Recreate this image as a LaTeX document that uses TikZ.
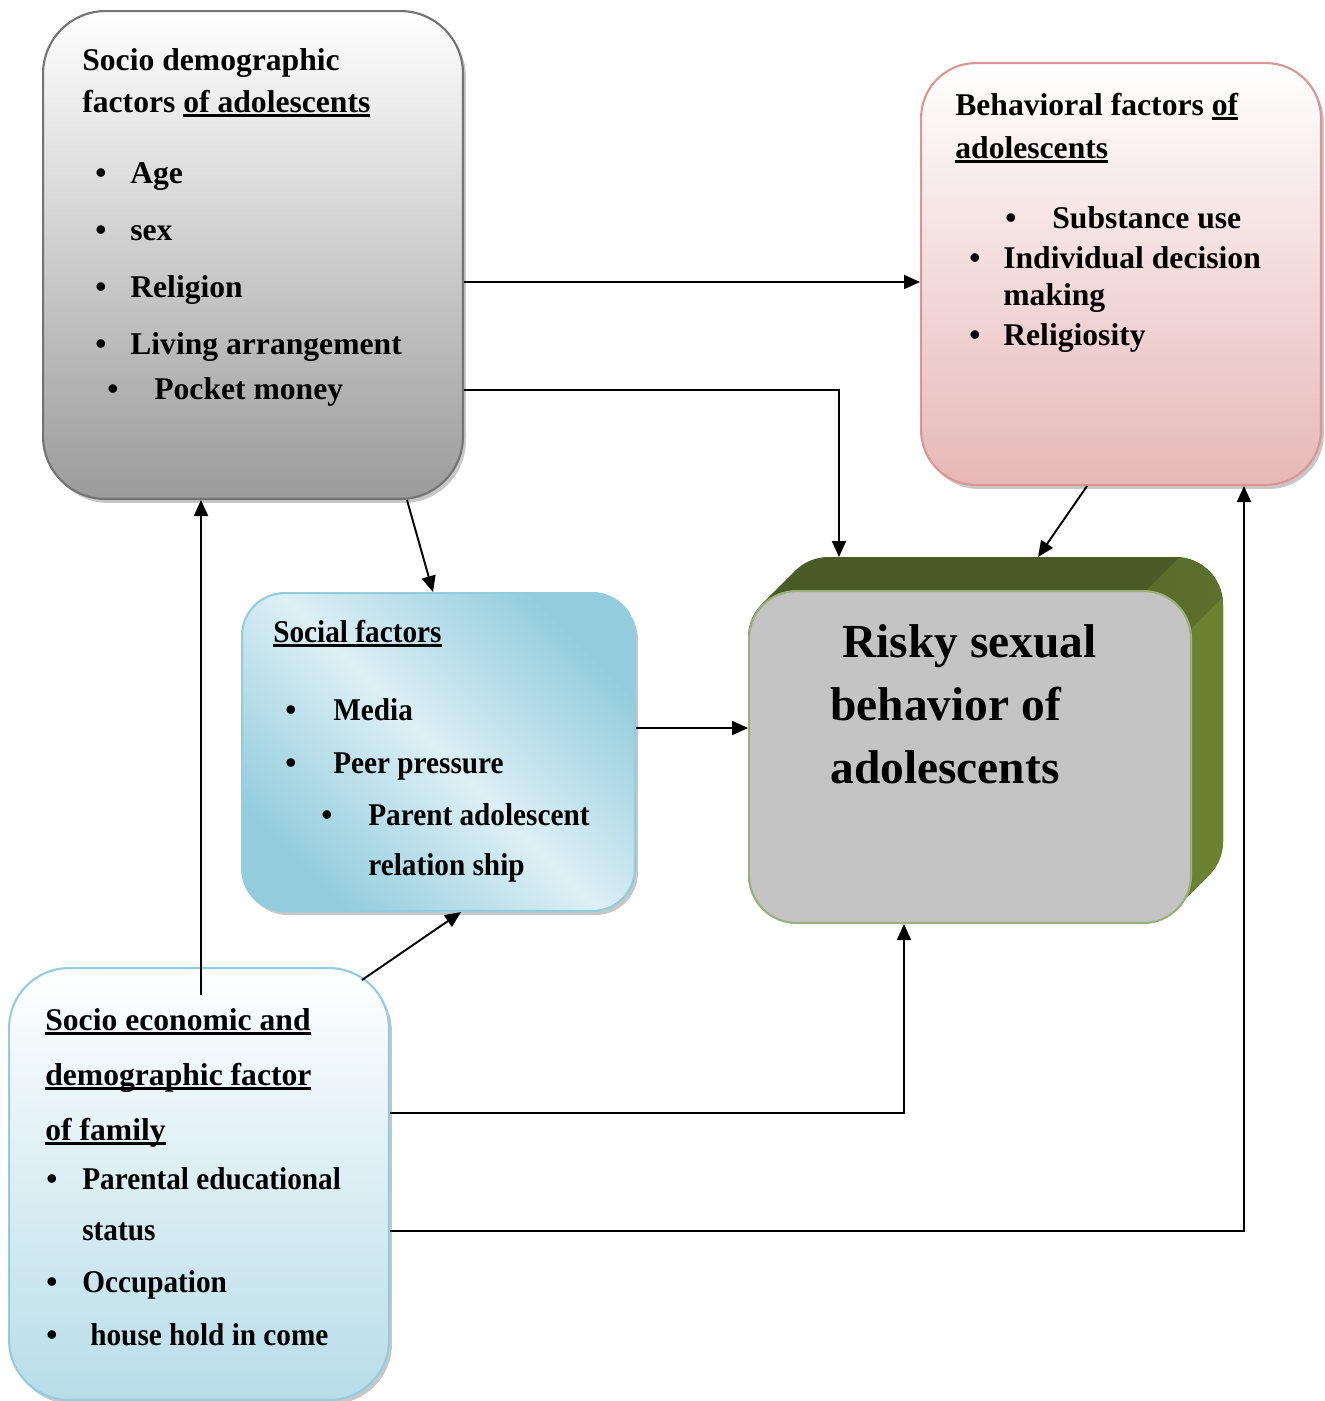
\documentclass[tikz,border=0pt]{standalone}
\usepackage{fontspec}
\setmainfont{Liberation Serif}
\newfontfamily\condfont[FakeStretch=0.925]{Liberation Serif}
\usetikzlibrary{arrows.meta,shadows}
\definecolor{gborder}{HTML}{737373}
\definecolor{gbottom}{HTML}{9B9B9B}
\definecolor{pborder}{HTML}{D99694}
\definecolor{pbottom}{HTML}{E6B8B7}
\definecolor{bborder}{HTML}{93CDDD}
\definecolor{bbottom}{HTML}{B7DDE8}
\definecolor{sdark}{HTML}{93CDDD}
\definecolor{slight}{HTML}{DDEFF5}
\definecolor{rfront}{HTML}{C4C4C4}
\definecolor{rborder}{HTML}{9CB07E}
\definecolor{rtop}{HTML}{4B5B28}
\definecolor{rside}{HTML}{6A8232}
\pgfdeclarehorizontalshading{socsh}{100bp}{color(0bp)=(sdark); color(25bp)=(sdark); color(50bp)=(slight); color(75bp)=(sdark); color(100bp)=(sdark)}
\newcommand\myul[1]{\setbox0=\hbox{#1}\rlap{\vrule height -1.2pt depth 2.8pt width \wd0}\box0}
\begin{document}
\begin{tikzpicture}[x=0.02cm,y=-0.02cm,
  boxbase/.style={rectangle, inner sep=0pt, anchor=north west, line width=1.2pt},
  shad/.style={drop shadow={shadow xshift=0.06cm, shadow yshift=-0.08cm, fill=black, opacity=0.22}},
  txt/.style={anchor=base west, inner sep=0pt, font=\fontsize{18}{22}\selectfont\bfseries},
  ctxt/.style={anchor=base west, inner sep=0pt, font=\fontsize{18}{22}\selectfont\condfont\bfseries},
  bul/.style={anchor=base, inner sep=0pt, font=\fontsize{18}{22}\selectfont\bfseries},
  big/.style={anchor=base west, inner sep=0pt, font=\fontsize{27}{32}\selectfont\bfseries},
  arr/.style={line width=1.1pt, -{Triangle[length=0.32cm,width=0.28cm]}}]
\useasboundingbox (0,0) rectangle (1325,1401);

% Box 1: socio demographic factors of adolescents
\node[boxbase, shad, rounded corners=1.25cm, draw=gborder, top color=white, bottom color=gbottom,
  minimum width=8.4cm, minimum height=9.76cm] (soc) at (42,10) {};
% Box 2: behavioral factors
\node[boxbase, shad, rounded corners=1.1cm, draw=pborder, top color=white, bottom color=pbottom,
  minimum width=8cm, minimum height=8.44cm] (beh) at (920,62) {};
% Social factors
\node[boxbase, shad, rounded corners=0.85cm, draw=bborder, shading=socsh, shading angle=45,
  minimum width=7.86cm, minimum height=6.36cm] (socf) at (241,592) {};
% Socio economic
\node[boxbase, shad, rounded corners=1.2cm, draw=bborder, top color=white, bottom color=bbottom,
  minimum width=7.6cm, minimum height=8.64cm] (fam) at (8,967) {};

% Risky box extrusion
\begin{scope}
  \clip \foreach \i in {0,...,33} {[rounded corners=0.95cm] (748+\i,590-\i) rectangle (1190+\i,922-\i)};
  \fill[rtop] (700,500) rectangle (1300,1000);
  \begin{scope}[shift={(1191,588)}, rotate=-45]
    \shade[left color=rtop, right color=rside] (-30,-400) rectangle (30,400);
    \fill[rside] (29,-400) rectangle (400,400);
  \end{scope}
\end{scope}
\node[boxbase, minimum width=8.84cm, minimum height=6.64cm] (rback) at (781,557) {};
\node[boxbase, rounded corners=0.95cm, draw=rborder, fill=rfront,
  minimum width=8.84cm, minimum height=6.64cm] (risk) at (748,590) {};

% Texts box 1
\node[txt] (a1) at (82,70) {Socio demographic};
\node[txt] (a2) at (82,112) {factors \myul{of adolescents}};
\node[bul] (ab1) at (101,183) {•};
\node[txt] (at1) at (130,183) {Age};
\node[bul] (ab2) at (101,240) {•};
\node[txt] (at2) at (130,240) {sex};
\node[bul] (ab3) at (101,297) {•};
\node[txt] (at3) at (130,297) {Religion};
\node[bul] (ab4) at (101,354) {•};
\node[txt] (at4) at (130,354) {Living arrangement};
\node[bul] (ab5) at (113,399) {•};
\node[txt] (at5) at (154,399) {Pocket money};

% Texts box 2
\node[txt] (b1) at (955,115) {Behavioral factors \myul{of}};
\node[txt] (b2) at (955,158) {\myul{adolescents}};
\node[bul] (bb1) at (1011,228) {•};
\node[txt] (bt1) at (1052,228) {Substance use};
\node[bul] (bb2) at (975,268) {•};
\node[txt] (bt2) at (1003,268) {Individual decision};
\node[txt] (bt3) at (1003,305) {making};
\node[bul] (bb3) at (975,345) {•};
\node[txt] (bt4) at (1003,345) {Religiosity};

% Risky text
\node[big] (r1) at (842,657) {Risky sexual};
\node[big] (r2) at (830,720) {behavior of};
\node[big] (r3) at (830,783) {adolescents};

% Social texts
\node[ctxt] (s1) at (273,642) {\myul{Social factors}};
\node[bul] (sb1) at (291,720) {•};
\node[ctxt] (st1) at (333,720) {Media};
\node[bul] (sb2) at (291,773) {•};
\node[ctxt] (st2) at (333,773) {Peer pressure};
\node[bul] (sb3) at (327,825) {•};
\node[ctxt] (st3) at (368,825) {Parent adolescent};
\node[ctxt] (st4) at (368,875) {relation ship};

% Family texts
\node[txt] (f1) at (45,1030) {\myul{Socio economic and}};
\node[txt] (f2) at (45,1085) {\myul{demographic factor}};
\node[txt] (f3) at (45,1140) {\myul{of family}};
\node[bul] (fb1) at (52,1189) {•};
\node[ctxt] (ft1) at (82,1189) {Parental educational};
\node[ctxt] (ft2) at (82,1240) {status};
\node[bul] (fb2) at (52,1292) {•};
\node[ctxt] (ft3) at (82,1292) {Occupation};
\node[bul] (fb3) at (52,1345) {•};
\node[ctxt] (ft4) at (90,1345) {house hold in come};

% Connectors
\coordinate (famtop) at (201,995);
\coordinate (famcorner) at (362,980);
\draw[arr] (soc.east |- 0,282) -- (beh.west |- 0,282);
\draw[arr] (soc.east |- 0,390) -| (rback.north -| 839,0);
\draw[arr] (soc.south -| 407,0) -- (socf.north -| 433,0);
\draw[arr] (beh.south -| 1087,0) -- (rback.north -| 1038,0);
\draw[arr] (socf.east |- 0,728) -- (risk.west |- 0,728);
\draw[arr] (famtop) -- (soc.south -| famtop);
\draw[arr] (famcorner) -- (socf.south -| 461,0);
\draw[arr] (fam.east |- 0,1113) -| (risk.south -| 904,0);
\draw[arr] (fam.east |- 0,1231) -| (beh.south -| 1244,0);
\end{tikzpicture}
\end{document}
